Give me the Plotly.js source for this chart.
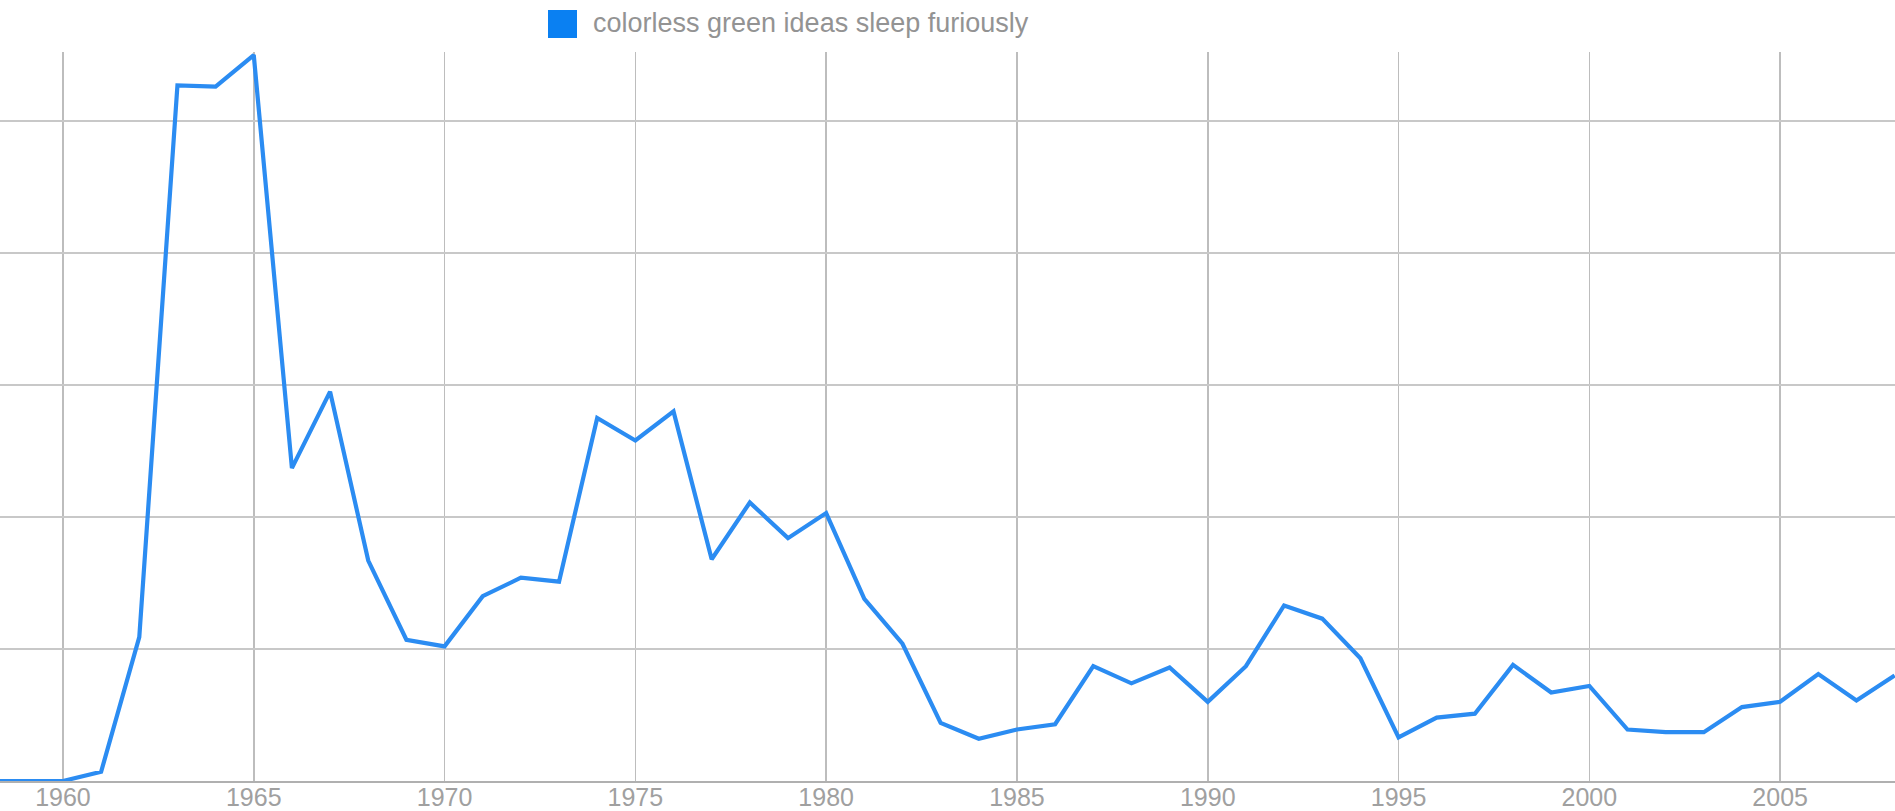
<!DOCTYPE html>
<html>
<head>
<meta charset="utf-8">
<script src="https://cdn.plot.ly/plotly-3.0.1.min.js"></script>
<style>
  html, body { margin: 0; padding: 0; background: #ffffff; }
  #chart { width: 1895px; height: 811px; }
</style>
</head>
<body>
<div id="chart"></div>
<script>
const SERIES_NAME = "colorless green ideas sleep furiously";

const years = [
  1958, 1959, 1960, 1961, 1962, 1963, 1964, 1965, 1966, 1967,
  1968, 1969, 1970, 1971, 1972, 1973, 1974, 1975, 1976, 1977,
  1978, 1979, 1980, 1981, 1982, 1983, 1984, 1985, 1986, 1987,
  1988, 1989, 1990, 1991, 1992, 1993, 1994, 1995, 1996, 1997,
  1998, 1999, 2000, 2001, 2002, 2003, 2004, 2005, 2006, 2007,
  2008
];

const frequency = [
  0.00, 0.00, 0.00, 0.07, 1.09, 5.27, 5.26, 5.50, 2.37, 2.95,
  1.67, 1.07, 1.02, 1.40, 1.54, 1.51, 2.75, 2.58, 2.80, 1.68,
  2.11, 1.84, 2.03, 1.38, 1.04, 0.44, 0.32, 0.39, 0.43, 0.87,
  0.74, 0.86, 0.60, 0.87, 1.33, 1.23, 0.93, 0.33, 0.48, 0.51,
  0.88, 0.67, 0.72, 0.39, 0.37, 0.37, 0.56, 0.60, 0.81, 0.61,
  0.80
];

const tickYears = [1960, 1965, 1970, 1975, 1980, 1985, 1990, 1995, 2000, 2005];
const tickLabels = ["1960", "1965", "1970", "1975", "1980", "1985", "1990", "1995", "2000", "2005"];

const LINE_COLOR = "#2b8cf2";

const trace = {
  x: years,
  y: frequency,
  type: "scatter",
  mode: "lines",
  name: SERIES_NAME,
  line: { color: LINE_COLOR, width: 4.2 },
  showlegend: false,
  hoverinfo: "x+y"
};

const layout = {
  width: 1895,
  height: 811,
  margin: { l: 0, r: 0, t: 52, b: 30, pad: 0 },
  paper_bgcolor: "#ffffff",
  plot_bgcolor: "#ffffff",
  showlegend: false,
  font: { family: "Liberation Sans, Arial, sans-serif", color: "#999999" },
  xaxis: {
    range: [1958.35, 2008.01],
    tickmode: "array",
    tickvals: tickYears,
    ticktext: tickLabels,
    showgrid: true,
    gridcolor: "#bdbdbd",
    gridwidth: 1.6,
    zeroline: false,
    showline: true,
    linecolor: "#b0b0b0",
    linewidth: 2,
    ticks: "",
    ticklabelstandoff: -7,
    tickfont: { size: 25, color: "#a0a0a0", family: "Liberation Sans, Arial, sans-serif" },
    fixedrange: true
  },
  yaxis: {
    range: [0, 5.523],
    dtick: 1,
    tick0: 0,
    showgrid: true,
    gridcolor: "#c8c8c8",
    gridwidth: 2,
    zeroline: false,
    showticklabels: false,
    ticks: "",
    fixedrange: true
  },
  shapes: [
    {
      type: "rect",
      xref: "paper", yref: "paper",
      x0: 548 / 1895, x1: 577 / 1895,
      y0: (781 - 38) / 729, y1: (781 - 10) / 729,
      fillcolor: "#0a80f2",
      line: { width: 0 }
    }
  ],
  annotations: [
    {
      xref: "paper", yref: "paper",
      x: 591 / 1895, y: (781 - 23) / 729,
      xanchor: "left", yanchor: "middle",
      showarrow: false,
      text: SERIES_NAME,
      font: { size: 27, color: "#939393", family: "Liberation Sans, Arial, sans-serif" }
    }
  ]
};

Plotly.newPlot("chart", [trace], layout, { displayModeBar: false, staticPlot: true });
</script>
</body>
</html>
